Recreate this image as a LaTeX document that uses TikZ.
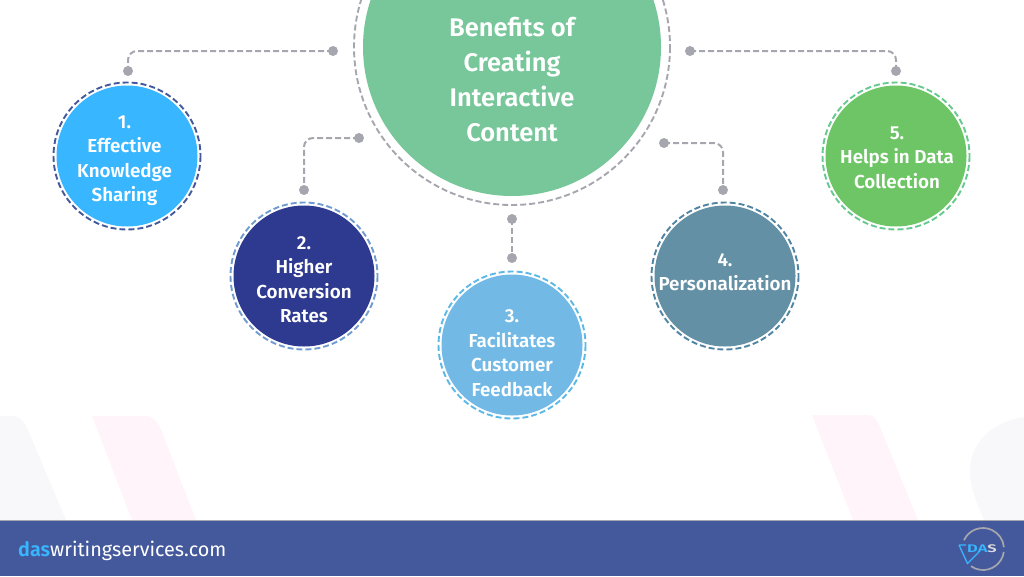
\documentclass[tikz,border=0pt]{standalone}
\usepackage{fontspec}
\setmainfont{Fira Sans}[BoldFont={Fira Sans SemiBold}]
\definecolor{footer}{HTML}{44599C}
\definecolor{linegray}{HTML}{A6A6AE}
\definecolor{mainfill}{HTML}{77C79A}
\definecolor{cA}{HTML}{38B6FF}
\definecolor{cB}{HTML}{2E3A8F}
\definecolor{cC}{HTML}{73B9E6}
\definecolor{cD}{HTML}{6490A6}
\definecolor{cE}{HTML}{6EC566}
\definecolor{rB}{HTML}{6F9BD1}
\definecolor{rC}{HTML}{5CB8E6}
\definecolor{rD}{HTML}{4F84A3}
\definecolor{rE}{HTML}{66C98F}
\definecolor{wmP}{HTML}{FEF4F9}
\definecolor{wmG}{HTML}{F8F8FB}
\tikzset{
 x=1pt,y=-1pt,
 lab/.style={text=white,align=center,font=\fontsize{18.8}{24.5}\selectfont\bfseries,inner sep=0pt},
 disc/.style={circle,minimum size=141pt,inner sep=0pt,fill=#1},
 ring/.style={draw=#1,dash pattern=on 6pt off 3pt,line width=1.9pt},
 conn/.style={draw=linegray,line width=2pt,dash pattern=on 6pt off 3pt,rounded corners=9pt},
 pin/.style={circle,fill=linegray,minimum size=10pt,inner sep=0pt},
}
\begin{document}
\begin{tikzpicture}
\useasboundingbox (0,0) rectangle (1024,576);
% watermark shapes
\fill[wmG] (0,416) -- (10,416) .. controls (20,416) and (24,420) .. (28,430) -- (66,520) -- (0,520) -- cycle;
\fill[wmP] (92,416) -- (145,416) .. controls (155,416) and (158,424) .. (162,432) -- (196,520) -- (132,520) -- cycle;
\fill[wmP] (812,415) -- (868,415) .. controls (874,415) and (877,420) .. (880,427) -- (918,520) -- (853,520) -- cycle;
\fill[wmG] (1024,417) .. controls (990,422) and (970,445) .. (970,470) .. controls (970,490) and (978,505) .. (984,520) -- (1024,520) -- cycle;
% footer
\fill[footer] (0,520) rectangle (1024,576);
\draw[linegray,line width=0.8pt] (0,520.3) -- (1024,520.3);
\node[anchor=west,inner sep=0pt,text=white,font=\fontsize{19.8}{22}\selectfont] (site) at (18,550.5) {\textcolor{cA}{\bfseries das}writingservices.com};
% logo
\draw[linegray,line width=1.7pt] (983,549) ++(-155:21) arc[start angle=-155,end angle=-5,radius=21];
\draw[linegray,line width=1.7pt] (983,549) ++(8:21) arc[start angle=8,end angle=125,radius=21];
\draw[cA,line width=1.3pt] (959,545) -- (966,545) (959,545) -- (967.5,563.5) -- (979,552);
\node[inner sep=0pt,font=\fontsize{11}{11}\selectfont\bfseries,xscale=1.5] (logoT) at (982,549) {\textcolor{cA}{DA}\textcolor{linegray!40!white}{S}};
% main
\node[circle,fill=mainfill,minimum size=298pt,inner sep=0pt] (main) at (512,47) {};
\draw[ring=linegray] (main.center) circle[radius=158];
\node[lab,font=\fontsize{25.5}{35}\selectfont\bfseries] (mainT) at (512,79.5) {Benefits of\\Creating\\Interactive\\Content};
% circles
\node[disc=cA] (n1) at (127,156) {}; \draw[ring=footer] (n1.center) circle[radius=73.5];
\node[disc=cB] (n2) at (304,276) {}; \draw[ring=rB] (n2.center) circle[radius=73.5];
\node[disc=cC] (n3) at (512,345) {}; \draw[ring=rC] (n3.center) circle[radius=73.5];
\node[disc=cD] (n4) at (725,276) {}; \draw[ring=rD] (n4.center) circle[radius=73.5];
\node[disc=cE] (n5) at (896,156) {}; \draw[ring=rE] (n5.center) circle[radius=73.5];
\node[lab] (t1) at (124.5,160.5) {1.\\Effective\\Knowledge\\Sharing};
\node[lab] (t2) at (304,279.5) {2.\\Higher\\Conversion\\Rates};
\node[lab] (t3) at (512,353) {3.\\Facilitates\\Customer\\Feedback};
\node[lab] (t4) at (725,272) {4.\\Personalization};
\node[lab] (t5) at (897,157.5) {5.\\Helps in Data\\Collection};
% pins
\node[pin] (a1) at (333,51) {}; \node[pin] (b1) at (128,71) {};
\node[pin] (a2) at (359,138) {}; \node[pin] (b2) at (304,190) {};
\node[pin] (a3) at (512,219) {}; \node[pin] (b3) at (512,258) {};
\node[pin] (a4) at (664,143) {}; \node[pin] (b4) at (723,190) {};
\node[pin] (a5) at (690,51) {}; \node[pin] (b5) at (896,71) {};
\draw[conn] (a1.center) -| (b1.center);
\draw[conn] (a2.center) -| (b2.center);
\draw[conn] (a3.center) -- (b3.center);
\draw[conn] (a4.center) -| (b4.center);
\draw[conn] (a5.center) -| (b5.center);
\end{tikzpicture}
\end{document}
